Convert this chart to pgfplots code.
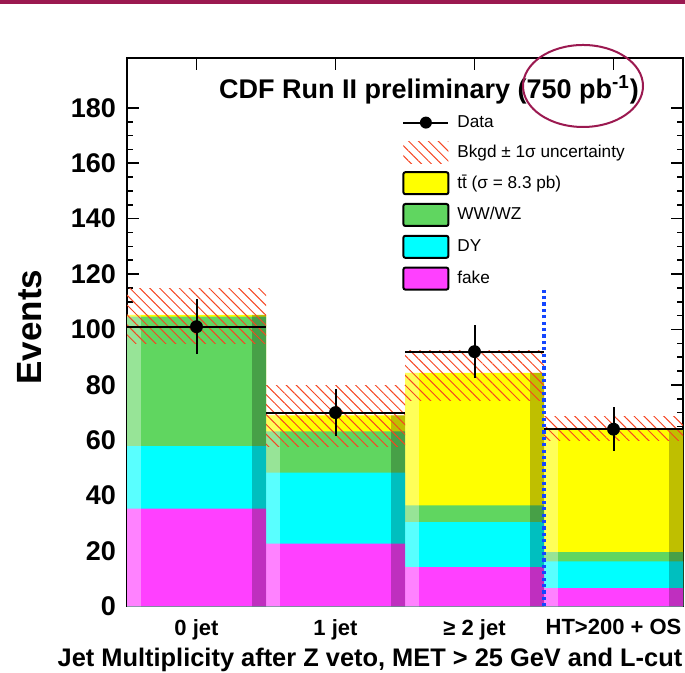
\documentclass[border=0pt]{standalone}
\usepackage{fontspec}
\setmainfont{Liberation Sans}
\usepackage{pgfplots}
\pgfplotsset{compat=1.18}
\usepackage{pgfplotstable}
\usetikzlibrary{patterns.meta}

\definecolor{cyel}{RGB}{255,255,0}
\definecolor{cgrn}{RGB}{96,214,96}
\definecolor{ccyn}{RGB}{0,255,255}
\definecolor{cmag}{RGB}{255,64,255}
\definecolor{chatch}{RGB}{245,70,35}
\definecolor{cblu}{RGB}{20,70,255}
\definecolor{cpur}{RGB}{155,25,80}

% background components (events per bin)
\pgfplotstableread{
x   fake dy   ww   tt
0.5 35.3 22.6 46.7 0.7
1.5 22.7 25.6 14.9 5.8
2.5 14.2 16.3 6.0  47.8
3.5 6.6  9.7  3.3  44.3
}\stack

% data
\pgfplotstableread{
x   y   ex  ey
0.5 101 0.5 10
1.5 70  0.5 8.4
2.5 92  0.5 9.6
3.5 64  0.5 8
}\data

\tikzset{hatchst/.style={pattern={Lines[angle=-45,distance=3.5pt,line width=0.5pt]}, pattern color=chatch}}

\begin{document}
\begin{tikzpicture}
\begin{axis}[
  at={(0,0)}, anchor=south west, scale only axis,
  width=278pt, height=274.25pt,
  xmin=0, xmax=4, ymin=0, ymax=198,
  clip=false,
  axis line style={line width=1pt},
  tick style={line width=0.8pt, black},
  tick align=inside,
  xtick={0.5,1.5,2.5,3.5},
  xticklabels={0 jet, 1 jet, ≥ 2 jet, HT>200 + OS},
  ytick={0,20,...,180},
  minor y tick num=3,
  major tick length=6pt, minor tick length=3pt,
  /pgf/number format/assume math mode=true,
  yticklabel style={font=\fontsize{13.5}{15}\selectfont\bfseries, xshift=-2pt},
  xticklabel style={font=\fontsize{11}{13}\selectfont\bfseries, yshift=-3pt},
  legend cell align=left,
  legend style={at={(rel axis cs:0.4946,0.903)}, anchor=north west, draw=none, fill=none,
    inner sep=0pt, row sep=3.9pt, column sep=4pt, nodes={inner sep=0pt},
    font=\fontsize{8.6}{10}\selectfont},
]
% stacked histogram (cumulative, drawn top-down)
\addplot[forget plot, ybar, bar width=1, bar shift=0, draw=none, fill=cyel]
  table[x=x, y expr=\thisrow{fake}+\thisrow{dy}+\thisrow{ww}+\thisrow{tt}] {\stack};
\addplot[forget plot, ybar, bar width=1, bar shift=0, draw=none, fill=cgrn]
  table[x=x, y expr=\thisrow{fake}+\thisrow{dy}+\thisrow{ww}] {\stack};
\addplot[forget plot, ybar, bar width=1, bar shift=0, draw=none, fill=ccyn]
  table[x=x, y expr=\thisrow{fake}+\thisrow{dy}] {\stack};
\addplot[forget plot, ybar, bar width=1, bar shift=0, draw=none, fill=cmag]
  table[x=x, y=fake] {\stack};
% shading strips
\addplot[forget plot, ybar, bar width=0.1, bar shift=-0.45, draw=none, fill=white, fill opacity=0.35]
  table[x=x, y expr=\thisrow{fake}+\thisrow{dy}+\thisrow{ww}+\thisrow{tt}] {\stack};
\addplot[forget plot, ybar, bar width=0.1, bar shift=0.45, draw=none, fill=black, fill opacity=0.25]
  table[x=x, y expr=\thisrow{fake}+\thisrow{dy}+\thisrow{ww}+\thisrow{tt}] {\stack};
% uncertainty bands
\addplot[forget plot, draw=none, hatchst] coordinates {(0,94.9) (1,94.9) (1,114.8) (0,114.8)} --cycle;
\addplot[forget plot, draw=none, hatchst] coordinates {(1,57.8) (2,57.8) (2,79.8) (1,79.8)} --cycle;
\addplot[forget plot, draw=none, hatchst] coordinates {(2,74.4) (3,74.4) (3,92.5) (2,92.5)} --cycle;
\addplot[forget plot, draw=none, hatchst] coordinates {(3,60.0) (4,60.0) (4,68.7) (3,68.7)} --cycle;
% blue dotted separator
\addplot[forget plot, cblu, line width=1.6pt, dash pattern=on 1.6pt off 1.6pt] coordinates {(3,0) (3,115)};
% data
\addplot[forget plot, only marks, black, mark=*, mark size=3pt,
  error bars/.cd, x dir=both, x explicit, y dir=both, y explicit, error mark=none,
  error bar style={line width=1pt, black}]
  table[x=x, y=y, x error=ex, y error=ey] {\data};
% legend
\addlegendimage{legend image code/.code={
  \path[draw=none, fill=none] (0pt,-5.5pt) rectangle (22.5pt,5.5pt);
  \draw[black, line width=1pt] (0pt,0pt) -- (22.5pt,0pt);
  \fill[black, draw=none] (11.25pt,0pt) circle (3pt);}}
\addlegendentry{Data}
\addlegendimage{legend image code/.code={
  \path[draw=none, fill=none] (0pt,-5.5pt) rectangle (22.5pt,5.5pt);
  \path[draw=none, hatchst] (0pt,-5.5pt) rectangle (22.5pt,5.5pt);}}
\addlegendentry{Bkgd ± 1σ uncertainty}
\addlegendimage{legend image code/.code={
  \draw[black, fill=cyel, line width=1pt, rounded corners=1pt] (0pt,-5.5pt) rectangle (22.5pt,5.5pt);}}
\addlegendentry{tt̄ (σ = 8.3 pb)}
\addlegendimage{legend image code/.code={
  \draw[black, fill=cgrn, line width=1pt, rounded corners=1pt] (0pt,-5.5pt) rectangle (22.5pt,5.5pt);}}
\addlegendentry{WW/WZ}
\addlegendimage{legend image code/.code={
  \draw[black, fill=ccyn, line width=1pt, rounded corners=1pt] (0pt,-5.5pt) rectangle (22.5pt,5.5pt);}}
\addlegendentry{DY}
\addlegendimage{legend image code/.code={
  \draw[black, fill=cmag, line width=1pt, rounded corners=1pt] (0pt,-5.5pt) rectangle (22.5pt,5.5pt);}}
\addlegendentry{fake}
\end{axis}
% labels and annotations
\node[rotate=90, font=\fontsize{17.5}{20}\selectfont\bfseries] at (-48.5pt,139.75pt) {Events};
\node[font=\fontsize{12.7}{15}\selectfont\bfseries] at (121.5pt,-26.75pt) {Jet Multiplicity after Z veto, MET > 25 GeV and L-cut};
\node[font=\fontsize{13.5}{16}\selectfont\bfseries] at (151pt,258.25pt) {CDF Run II preliminary (750 pb\textsuperscript{-1})};
\draw[cpur, line width=1pt] (228pt,260.25pt) ellipse [x radius=30pt, y radius=20.5pt];
\fill[cpur] (-63.5pt,301.05pt) rectangle (279pt,303.25pt);
\pgfresetboundingbox
\path[use as bounding box] (-63.5pt,-33.25pt) rectangle (279pt,303.25pt);
\end{tikzpicture}
\end{document}
